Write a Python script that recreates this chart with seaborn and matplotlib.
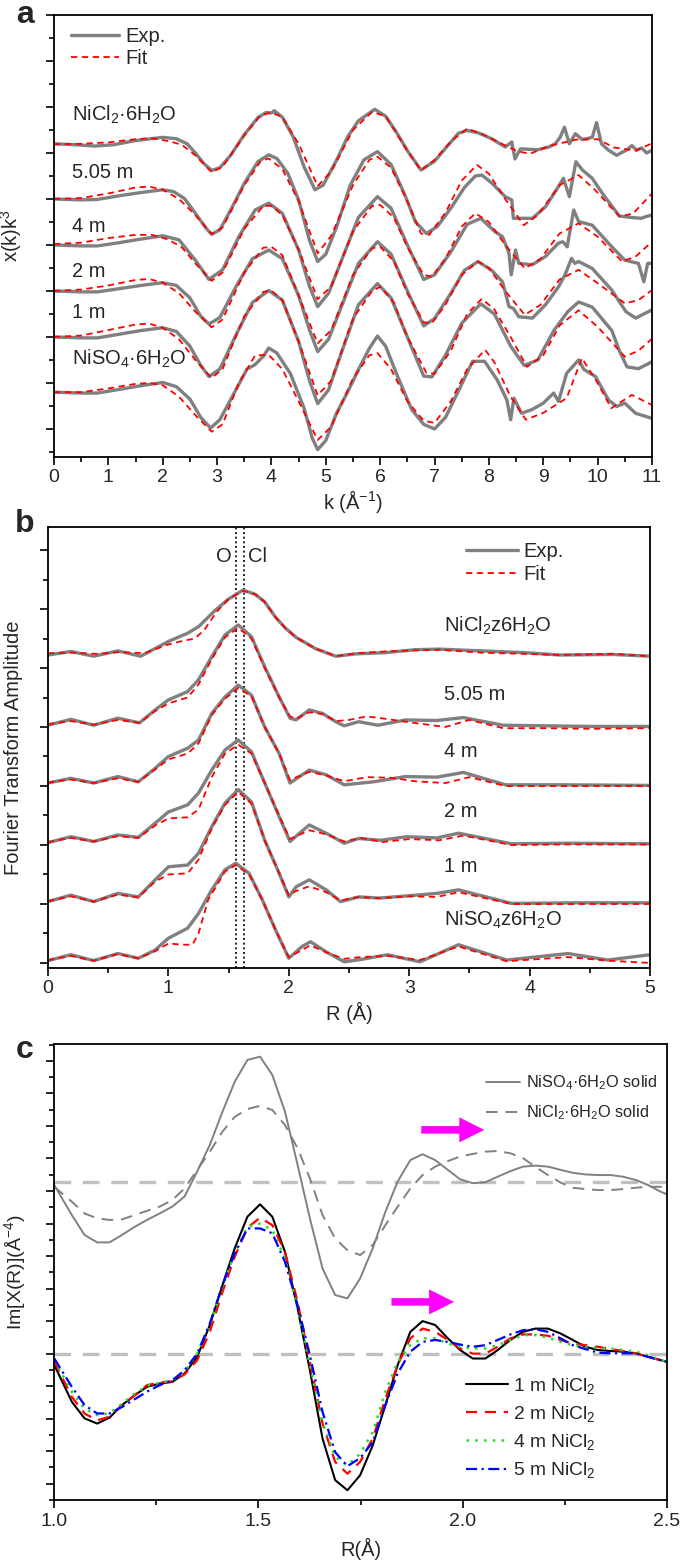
import numpy as np
import matplotlib
matplotlib.use('Agg')
import matplotlib.pyplot as plt
from matplotlib.lines import Line2D
from matplotlib.patches import FancyArrowPatch
from matplotlib.ticker import MultipleLocator
import seaborn as sns

sns.set_theme(style='ticks')
plt.rcParams['font.family'] = ['Liberation Sans', 'DejaVu Sans']
plt.rcParams['mathtext.fontset'] = 'custom'
plt.rcParams['mathtext.rm'] = 'Liberation Sans'
plt.rcParams['mathtext.it'] = 'Liberation Sans:italic'
plt.rcParams['mathtext.default'] = 'regular'

# ---------------- Panel a: k^3 chi(k), (k, value) pairs ----------------
a_names = ['NiCl$_2$·6H$_2$O', '5.05 m', '4 m', '2 m', '1 m', 'NiSO$_4$·6H$_2$O']
a_offsets = [6.2, 5.0, 4.0, 3.0, 2.0, 0.8]

a_exp_nicl2 = [(0,0),(0.4,-0.02),(0.75,-0.05),(1.1,-0.02),(1.5,0.07),(2.0,0.14),(2.25,0.11),(2.45,0.0),(2.6,-0.2),(2.75,-0.42),(2.9,-0.58),(3.05,-0.52),(3.25,-0.25),(3.5,0.2),(3.75,0.57),(3.9,0.68),(4.0,0.67),(4.05,0.72),(4.2,0.58),(4.4,0.15),(4.6,-0.5),(4.8,-1.0),(4.95,-0.9),(5.2,-0.35),(5.4,0.15),(5.6,0.5),(5.9,0.75),(6.1,0.6),(6.3,0.25),(6.5,-0.15),(6.75,-0.57),(7.0,-0.38),(7.2,-0.1),(7.44,0.23),(7.6,0.29),(7.8,0.24),(8.05,0.11),(8.3,-0.07),(8.42,0.04),(8.48,-0.33),(8.58,-0.11),(8.9,-0.13),(9.1,-0.07),(9.22,0.0),(9.31,0.14),(9.39,0.36),(9.48,0.0),(9.59,0.22),(9.72,0.09),(9.9,0.14),(9.98,0.46),(10.07,0.0),(10.2,-0.14),(10.35,-0.25),(10.54,-0.13),(10.63,-0.04),(10.72,-0.14),(10.81,-0.09),(10.9,-0.2),(11.0,-0.14)]
a_fit_nicl2 = [(0,-0.01),(0.5,0.0),(1.0,0.03),(1.5,0.1),(1.8,0.12),(2.1,0.06),(2.35,-0.02),(2.6,-0.25),(2.9,-0.62),(3.1,-0.5),(3.5,0.18),(3.8,0.62),(4.0,0.68),(4.2,0.58),(4.5,0.0),(4.85,-0.92),(5.1,-0.6),(5.5,0.3),(5.85,0.69),(6.1,0.6),(6.5,-0.15),(6.75,-0.58),(7.0,-0.35),(7.3,0.05),(7.6,0.33),(7.9,0.2),(8.2,0.02),(8.5,-0.15),(8.75,-0.22),(9.1,-0.05),(9.6,0.09),(10.0,0.1),(10.3,-0.08),(10.7,-0.15),(11.0,0.01)]

a_exp_505 = [(0,0),(0.5,-0.02),(0.8,-0.01),(1.2,0.07),(1.6,0.14),(2.0,0.2),(2.2,0.16),(2.4,0.01),(2.6,-0.31),(2.8,-0.64),(2.9,-0.77),(3.05,-0.67),(3.25,-0.24),(3.5,0.34),(3.75,0.81),(3.95,0.96),(4.1,0.88),(4.3,0.56),(4.5,-0.02),(4.7,-0.9),(4.85,-1.36),(5.0,-1.2),(5.2,-0.6),(5.45,0.3),(5.7,0.85),(5.95,1.03),(6.2,0.75),(6.45,0.1),(6.65,-0.5),(6.85,-0.75),(7.05,-0.6),(7.3,-0.2),(7.55,0.25),(7.75,0.5),(7.87,0.52),(8.05,0.35),(8.3,0.05),(8.42,-0.02),(8.45,-0.42),(8.55,-0.42),(8.8,-0.42),(9.04,-0.17),(9.28,0.27),(9.37,0.45),(9.48,0.05),(9.6,0.81),(9.72,0.63),(9.9,0.45),(10.1,0.1),(10.4,-0.37),(10.6,-0.4),(10.8,-0.42),(10.9,-0.38),(11.0,-0.35)]
a_fit_505 = [(0,0.0),(0.5,0.02),(1.0,0.12),(1.5,0.25),(1.75,0.27),(2.0,0.2),(2.3,0.0),(2.6,-0.35),(2.9,-0.76),(3.1,-0.62),(3.5,0.3),(3.8,0.82),(3.95,0.88),(4.2,0.65),(4.5,-0.05),(4.85,-1.18),(5.1,-0.8),(5.5,0.3),(5.8,0.85),(5.95,0.92),(6.2,0.68),(6.5,-0.05),(6.75,-0.75),(6.9,-0.78),(7.2,-0.3),(7.5,0.4),(7.78,0.74),(8.0,0.55),(8.3,0.0),(8.64,-0.57),(8.9,-0.35),(9.3,0.3),(9.65,0.52),(9.95,0.2),(10.4,-0.38),(10.65,-0.32),(11.0,0.12)]

a_exp_4 = [(0,0),(0.5,-0.02),(0.8,-0.02),(1.2,0.05),(1.5,0.11),(2.0,0.2),(2.3,0.11),(2.6,-0.33),(2.85,-0.75),(3.1,-0.54),(3.4,0.18),(3.7,0.76),(3.95,0.91),(4.2,0.69),(4.5,-0.11),(4.7,-0.9),(4.85,-1.34),(5.05,-1.05),(5.3,-0.3),(5.6,0.6),(5.95,1.05),(6.2,0.8),(6.5,0.0),(6.8,-0.75),(7.0,-0.65),(7.3,-0.15),(7.6,0.45),(7.85,0.58),(8.1,0.3),(8.25,0.18),(8.37,-0.18),(8.41,-0.65),(8.49,-0.11),(8.55,-0.4),(8.8,-0.43),(9.04,-0.25),(9.28,0.04),(9.36,0.07),(9.44,-0.04),(9.56,0.76),(9.65,0.51),(9.9,0.43),(10.26,-0.04),(10.5,-0.33),(10.75,-0.4),(10.85,-0.8),(10.92,-0.4),(11.0,-0.4)]
a_fit_4 = [(0,0.02),(0.5,0.05),(1.0,0.15),(1.5,0.22),(1.8,0.22),(2.1,0.12),(2.35,-0.05),(2.6,-0.4),(2.9,-0.78),(3.1,-0.6),(3.5,0.35),(3.85,0.85),(4.0,0.85),(4.2,0.65),(4.5,-0.1),(4.85,-1.18),(5.1,-0.9),(5.5,0.3),(5.85,0.85),(6.0,0.87),(6.25,0.6),(6.5,-0.05),(6.8,-0.65),(6.95,-0.69),(7.2,-0.3),(7.5,0.4),(7.75,0.69),(8.0,0.5),(8.3,0.0),(8.66,-0.51),(8.95,-0.3),(9.3,0.25),(9.65,0.47),(10.0,0.18),(10.45,-0.36),(10.7,-0.25),(11.0,0.07)]

a_exp_2 = [(0,0),(0.5,-0.02),(0.8,-0.02),(1.2,0.05),(1.6,0.12),(2.0,0.18),(2.25,0.12),(2.5,-0.15),(2.7,-0.55),(2.85,-0.72),(3.05,-0.58),(3.35,0.1),(3.65,0.7),(3.95,0.89),(4.2,0.7),(4.5,-0.1),(4.7,-0.85),(4.85,-1.32),(5.05,-1.05),(5.3,-0.3),(5.6,0.6),(5.95,1.07),(6.2,0.8),(6.5,0.0),(6.8,-0.76),(7.0,-0.6),(7.3,-0.05),(7.55,0.45),(7.8,0.64),(8.05,0.45),(8.25,0.2),(8.37,-0.34),(8.45,-0.38),(8.55,-0.56),(8.8,-0.59),(9.04,-0.3),(9.28,0.09),(9.4,0.35),(9.52,0.71),(9.58,0.6),(9.65,0.64),(9.9,0.49),(10.26,0.02),(10.52,-0.45),(10.7,-0.59),(11.0,-0.41)]
a_fit_2 = [(0,0.0),(0.5,0.03),(1.0,0.12),(1.5,0.24),(1.75,0.26),(2.0,0.18),(2.3,-0.05),(2.6,-0.45),(2.9,-0.79),(3.1,-0.62),(3.5,0.4),(3.85,0.94),(4.0,0.96),(4.2,0.78),(4.5,-0.1),(4.85,-1.14),(5.1,-0.85),(5.5,0.35),(5.85,0.93),(6.0,0.96),(6.25,0.65),(6.5,-0.05),(6.8,-0.68),(6.95,-0.7),(7.2,-0.3),(7.5,0.35),(7.8,0.64),(8.0,0.5),(8.3,0.0),(8.66,-0.52),(8.95,-0.3),(9.3,0.25),(9.65,0.46),(10.0,0.17),(10.5,-0.27),(10.75,-0.2),(11.0,0.02)]

a_exp_1 = [(0,0),(0.5,-0.02),(0.8,-0.02),(1.2,0.06),(1.6,0.14),(2.0,0.2),(2.25,0.12),(2.5,-0.2),(2.7,-0.62),(2.85,-0.86),(3.05,-0.7),(3.35,0.05),(3.65,0.75),(3.95,1.01),(4.2,0.8),(4.5,-0.1),(4.7,-0.95),(4.85,-1.45),(5.05,-1.15),(5.3,-0.3),(5.6,0.7),(5.95,1.16),(6.2,0.85),(6.5,0.0),(6.8,-0.85),(6.95,-0.87),(7.2,-0.4),(7.5,0.3),(7.85,0.72),(8.1,0.5),(8.4,-0.2),(8.65,-0.62),(8.9,-0.5),(9.2,0.15),(9.45,0.55),(9.65,0.76),(9.9,0.65),(10.26,0.14),(10.4,-0.3),(10.54,-0.65),(10.75,-0.69),(11.0,-0.54)]
a_fit_1 = [(0,0.0),(0.5,0.03),(1.0,0.15),(1.5,0.27),(1.75,0.29),(2.0,0.2),(2.3,-0.05),(2.6,-0.5),(2.9,-0.89),(3.1,-0.7),(3.5,0.45),(3.85,0.98),(4.0,1.01),(4.2,0.8),(4.5,-0.1),(4.85,-1.27),(5.1,-0.95),(5.5,0.4),(5.85,1.0),(6.0,1.09),(6.25,0.75),(6.5,0.0),(6.85,-0.78),(7.0,-0.8),(7.3,-0.3),(7.6,0.5),(7.87,0.83),(8.1,0.6),(8.4,0.0),(8.7,-0.65),(9.0,-0.4),(9.3,0.25),(9.65,0.58),(10.0,0.22),(10.5,-0.43),(10.75,-0.3),(11.0,-0.04)]

a_exp_niso4 = [(0,0),(0.5,-0.02),(0.8,-0.02),(1.2,0.06),(1.6,0.14),(2.0,0.21),(2.25,0.12),(2.5,-0.15),(2.7,-0.55),(2.88,-0.78),(3.05,-0.6),(3.3,-0.05),(3.55,0.5),(3.7,0.6),(3.85,0.78),(3.95,0.96),(4.1,0.85),(4.35,0.4),(4.6,-0.35),(4.75,-1.0),(4.85,-1.25),(5.0,-1.05),(5.2,-0.45),(5.4,0.0),(5.6,0.49),(5.8,0.95),(5.95,1.22),(6.1,1.0),(6.3,0.4),(6.58,-0.38),(6.8,-0.7),(7.0,-0.8),(7.2,-0.55),(7.45,0.05),(7.7,0.67),(7.92,0.67),(8.15,0.27),(8.33,-0.17),(8.4,-0.6),(8.46,-0.13),(8.6,-0.46),(8.79,-0.38),(9.0,-0.24),(9.19,-0.02),(9.28,-0.2),(9.43,0.41),(9.65,0.7),(9.75,0.49),(9.96,0.34),(10.2,-0.17),(10.35,-0.31),(10.5,-0.24),(10.7,-0.46),(11.0,-0.57)]
a_fit_niso4 = [(0,0.0),(0.5,0.0),(1.0,0.08),(1.5,0.18),(1.75,0.2),(2.0,0.15),(2.3,-0.1),(2.6,-0.5),(2.9,-0.86),(3.1,-0.7),(3.4,0.2),(3.7,0.8),(3.95,0.81),(4.2,0.5),(4.5,-0.2),(4.85,-1.04),(5.1,-0.75),(5.5,0.3),(5.8,0.8),(5.95,0.85),(6.2,0.5),(6.5,-0.2),(6.8,-0.62),(7.0,-0.67),(7.3,-0.2),(7.6,0.5),(7.93,0.92),(8.1,0.65),(8.4,-0.1),(8.68,-0.6),(9.0,-0.45),(9.43,-0.13),(9.71,0.74),(10.0,0.2),(10.25,-0.35),(10.63,-0.06),(11.0,-0.28)]

a_exp = [a_exp_nicl2, a_exp_505, a_exp_4, a_exp_2, a_exp_1, a_exp_niso4]
a_fit = [a_fit_nicl2, a_fit_505, a_fit_4, a_fit_2, a_fit_1, a_fit_niso4]
a_label_y = [6.7, 5.45, 4.29, 3.31, 2.41, 1.39]

# ---------------- Panel b: FT amplitude, (R, value) pairs ----------------
b_names = ['NiCl$_2$z6H$_2$O', '5.05 m', '4 m', '2 m', '1 m', 'NiSO$_4$z6H$_2$O']
b_offsets = [5.2, 4.0, 3.0, 2.0, 1.0, 0.0]

b_exp_nicl2 = [(0,0.02),(0.19,0.08),(0.38,0.0),(0.58,0.09),(0.77,0.0),(1.0,0.25),(1.16,0.39),(1.25,0.5),(1.39,0.78),(1.5,0.97),(1.62,1.12),(1.72,1.05),(1.8,0.92),(1.89,0.66),(1.97,0.48),(2.06,0.32),(2.22,0.13),(2.39,0.0),(2.56,0.04),(2.8,0.06),(3.05,0.11),(3.25,0.12),(3.6,0.09),(3.96,0.06),(4.25,0.02),(4.69,0.03),(5.0,0.0)]
b_fit_nicl2 = [(0,0.05),(0.2,0.06),(0.4,0.04),(0.6,0.07),(0.8,0.05),(1.0,0.2),(1.12,0.26),(1.22,0.3),(1.3,0.45),(1.4,0.75),(1.5,0.97),(1.62,1.11),(1.72,1.05),(1.8,0.92),(1.89,0.66),(1.97,0.48),(2.06,0.32),(2.22,0.13),(2.39,0.0),(2.56,0.05),(2.8,0.08),(3.05,0.1),(3.25,0.11),(3.6,0.06),(3.96,0.04),(4.25,0.02),(4.69,0.04),(5.0,0.0)]
b_exp_505 = [(0,0.03),(0.19,0.13),(0.38,0.03),(0.58,0.15),(0.76,0.07),(0.89,0.29),(1.0,0.46),(1.16,0.6),(1.25,0.8),(1.36,1.19),(1.47,1.56),(1.58,1.73),(1.69,1.53),(1.8,1.02),(1.92,0.51),(2.01,0.15),(2.06,0.12),(2.17,0.29),(2.28,0.23),(2.39,0.09),(2.46,0.02),(2.58,0.09),(2.74,0.03),(2.97,0.12),(3.23,0.11),(3.45,0.16),(3.78,0.03),(4.14,0.02),(4.5,0.01),(5.0,0.01)]
b_fit_505 = [(0,0.05),(0.19,0.1),(0.38,0.04),(0.58,0.12),(0.76,0.07),(0.89,0.27),(1.0,0.4),(1.16,0.5),(1.25,0.72),(1.36,1.15),(1.47,1.52),(1.58,1.68),(1.69,1.5),(1.8,1.0),(1.92,0.5),(2.01,0.18),(2.06,0.14),(2.17,0.25),(2.28,0.22),(2.39,0.1),(2.5,0.12),(2.65,0.18),(2.8,0.14),(3.0,0.08),(3.3,0.0),(3.5,0.12),(3.78,-0.02),(4.14,-0.02),(4.5,-0.03),(5.0,-0.02)]
b_exp_4 = [(0,0.05),(0.19,0.13),(0.38,0.05),(0.58,0.16),(0.75,0.07),(0.89,0.3),(1.0,0.5),(1.16,0.64),(1.25,0.78),(1.36,1.23),(1.47,1.51),(1.58,1.71),(1.69,1.54),(1.8,1.0),(1.92,0.55),(2.01,0.05),(2.17,0.27),(2.31,0.19),(2.46,0.02),(2.7,0.07),(2.97,0.16),(3.23,0.15),(3.45,0.23),(3.8,0.02),(4.3,0.02),(5.0,0.01)]
b_fit_4 = [(0,0.06),(0.19,0.11),(0.38,0.05),(0.58,0.13),(0.75,0.07),(0.89,0.28),(1.0,0.45),(1.16,0.55),(1.25,0.72),(1.36,1.2),(1.47,1.48),(1.58,1.66),(1.69,1.52),(1.8,1.0),(1.92,0.55),(2.01,0.1),(2.17,0.24),(2.31,0.18),(2.46,0.08),(2.65,0.15),(2.85,0.14),(3.05,0.08),(3.3,0.05),(3.5,0.15),(3.8,0.0),(4.3,0.0),(5.0,0.0)]
b_exp_2 = [(0,0.04),(0.19,0.14),(0.38,0.06),(0.58,0.17),(0.75,0.13),(0.89,0.37),(1.0,0.56),(1.16,0.68),(1.25,0.88),(1.36,1.27),(1.47,1.61),(1.58,1.78),(1.69,1.58),(1.8,1.05),(1.92,0.48),(2.01,0.06),(2.17,0.34),(2.31,0.2),(2.46,0.03),(2.58,0.11),(2.76,0.08),(2.98,0.14),(3.23,0.12),(3.41,0.2),(3.85,0.02),(4.32,0.03),(5.0,0.02)]
b_fit_2 = [(0,0.05),(0.19,0.12),(0.38,0.06),(0.58,0.15),(0.75,0.12),(0.89,0.33),(1.0,0.45),(1.16,0.47),(1.25,0.6),(1.36,1.15),(1.47,1.55),(1.58,1.7),(1.69,1.55),(1.8,1.05),(1.92,0.5),(2.01,0.1),(2.17,0.25),(2.31,0.18),(2.46,0.06),(2.6,0.12),(2.78,0.05),(3.0,0.1),(3.25,0.08),(3.45,0.16),(3.85,0.0),(4.3,0.01),(5.0,0.01)]
b_exp_1 = [(0,0.04),(0.19,0.15),(0.38,0.04),(0.58,0.18),(0.75,0.12),(0.89,0.41),(1.0,0.63),(1.16,0.66),(1.25,0.86),(1.36,1.31),(1.47,1.71),(1.58,1.94),(1.69,1.73),(1.8,1.08),(1.92,0.52),(2.0,0.12),(2.06,0.29),(2.17,0.41),(2.31,0.24),(2.43,0.04),(2.58,0.12),(2.75,0.1),(3.0,0.14),(3.23,0.18),(3.41,0.24),(3.85,0.01),(4.4,0.02),(5.0,0.02)]
b_fit_1 = [(0,0.05),(0.19,0.13),(0.38,0.04),(0.58,0.16),(0.75,0.11),(0.89,0.38),(1.0,0.5),(1.16,0.52),(1.25,0.75),(1.36,1.28),(1.47,1.68),(1.58,1.9),(1.69,1.7),(1.8,1.08),(1.92,0.52),(2.0,0.15),(2.06,0.22),(2.17,0.3),(2.31,0.2),(2.43,0.06),(2.58,0.12),(2.75,0.1),(3.0,0.13),(3.23,0.12),(3.41,0.2),(3.85,0.0),(4.4,0.0),(5.0,0.0)]
b_exp_niso4 = [(0,0.04),(0.19,0.14),(0.38,0.04),(0.58,0.16),(0.75,0.08),(0.89,0.22),(1.0,0.42),(1.16,0.59),(1.25,0.84),(1.36,1.24),(1.47,1.58),(1.56,1.69),(1.67,1.52),(1.78,1.07),(1.89,0.56),(2.0,0.08),(2.11,0.28),(2.18,0.36),(2.31,0.19),(2.46,0.02),(2.6,0.06),(2.82,0.14),(3.09,0.02),(3.41,0.31),(3.81,0.05),(4.32,0.16),(4.65,0.05),(5.0,0.14)]
b_fit_niso4 = [(0,0.05),(0.19,0.12),(0.38,0.04),(0.58,0.15),(0.75,0.08),(0.89,0.2),(1.0,0.33),(1.12,0.31),(1.2,0.31),(1.25,0.5),(1.33,1.07),(1.47,1.55),(1.56,1.66),(1.67,1.5),(1.78,1.07),(1.89,0.56),(2.0,0.1),(2.11,0.22),(2.18,0.3),(2.31,0.18),(2.46,0.07),(2.6,0.1),(2.82,0.12),(3.09,0.05),(3.41,0.28),(3.81,0.03),(4.32,0.1),(4.65,0.04),(5.0,0.0)]

b_exp = [b_exp_nicl2, b_exp_505, b_exp_4, b_exp_2, b_exp_1, b_exp_niso4]
b_fit = [b_fit_nicl2, b_fit_505, b_fit_4, b_fit_2, b_fit_1, b_fit_niso4]
b_label_y = [5.62, 4.46, 3.49, 2.47, 1.55, 0.64]
b_shells = [1.563, 1.632]   # O and Cl distances (Å)

# ---------------- Panel c: Im[chi(R)] ----------------
c_R = [1.0, 1.043, 1.074, 1.105, 1.135, 1.166, 1.197, 1.227, 1.258, 1.289, 1.319, 1.350, 1.381, 1.412, 1.442,
       1.473, 1.504, 1.534, 1.565, 1.596, 1.626, 1.657, 1.688, 1.718, 1.749, 1.780, 1.811, 1.841, 1.872, 1.902,
       1.933, 1.964, 1.994, 2.025, 2.056, 2.086, 2.117, 2.148, 2.178, 2.209, 2.240, 2.270, 2.301, 2.332, 2.363,
       2.393, 2.424, 2.455, 2.485, 2.5]
c_solid_offset = 5.28
c_niso4_solid = [-0.10, -1.02, -1.63, -1.86, -1.86, -1.63, -1.38, -1.17, -0.97, -0.76, -0.45, 0.32, 1.14, 2.16, 3.08,
                 3.75, 3.85, 3.29, 2.16, 0.52, -1.12, -2.66, -3.48, -3.58, -2.97, -2.04, -0.92, 0.01, 0.67, 0.85,
                 0.67, 0.37, 0.08, -0.04, -0.01, 0.16, 0.33, 0.47, 0.5, 0.47, 0.37, 0.28, 0.23, 0.21, 0.21,
                 0.16, 0.06, -0.10, -0.30, -0.38]
c_nicl2_solid = [-0.15, -0.61, -0.97, -1.12, -1.17, -1.15, -1.02, -0.89, -0.76, -0.56, -0.2, 0.37, 0.93, 1.55, 2.0,
                 2.24, 2.34, 2.21, 1.75, 1.03, 0.11, -1.02, -1.74, -2.1, -2.25, -1.94, -1.33, -0.76, -0.2, 0.21,
                 0.47, 0.64, 0.78, 0.86, 0.93, 0.95, 0.88, 0.73, 0.47, 0.21, -0.02, -0.18, -0.22, -0.25, -0.25,
                 -0.22, -0.18, -0.15, -0.15, -0.15]
c_1m = [-0.35, -1.48, -1.99, -2.15, -1.97, -1.58, -1.28, -1.02, -0.92, -0.87, -0.61, -0.1, 0.88, 2.11, 3.24,
        4.21, 4.59, 4.21, 3.13, 1.39, -0.51, -2.61, -3.89, -4.2, -3.74, -2.82, -1.58, -0.35, 0.67, 1.0,
        0.88, 0.47, 0.11, -0.15, -0.15, 0.11, 0.42, 0.67, 0.77, 0.77, 0.62, 0.42, 0.21, 0.11, 0.08,
        0.06, 0.01, -0.1, -0.2, -0.25]
c_2m = [-0.25, -1.33, -1.84, -2.05, -1.94, -1.58, -1.28, -0.97, -0.89, -0.85, -0.64, -0.2, 0.67, 1.9, 2.98,
        3.87, 4.18, 3.95, 3.13, 1.59, -0.25, -2.15, -3.33, -3.69, -3.33, -2.61, -1.38, -0.35, 0.47, 0.77,
        0.67, 0.42, 0.16, 0.0, 0.0, 0.21, 0.47, 0.59, 0.59, 0.55, 0.42, 0.31, 0.26, 0.21, 0.14,
        0.08, 0.01, -0.1, -0.2, -0.25]
c_4m = [-0.2, -1.17, -1.69, -1.89, -1.84, -1.54, -1.23, -0.99, -0.9, -0.82, -0.56, 0.0, 0.88, 2.06, 3.08,
        3.9, 4.0, 3.8, 2.92, 1.39, -0.35, -2.1, -3.18, -3.43, -3.08, -2.41, -1.17, -0.25, 0.26, 0.47,
        0.47, 0.31, 0.21, 0.16, 0.16, 0.26, 0.42, 0.57, 0.57, 0.49, 0.36, 0.26, 0.21, 0.18, 0.16,
        0.11, 0.06, -0.05, -0.2, -0.25]
c_5m = [-0.15, -1.02, -1.58, -1.84, -1.84, -1.64, -1.4, -1.17, -0.97, -0.82, -0.51, 0.0, 0.93, 2.11, 3.08,
        3.85, 3.85, 3.7, 2.82, 1.49, -0.05, -1.79, -3.03, -3.46, -3.21, -2.72, -1.58, -0.61, 0.06, 0.36,
        0.42, 0.36, 0.28, 0.21, 0.26, 0.42, 0.59, 0.72, 0.75, 0.67, 0.47, 0.26, 0.14, 0.03, 0.01,
        0.01, 0.01, -0.1, -0.2, -0.25]
c_arrows = [(1.892, 2.06, 6.88), (1.819, 1.986, 1.59)]

# ---------------- Styling ----------------
EXP_C = '#808080'
FIT_C = '#ff0000'
FS = 14.5
TS = 14

fig = plt.figure(figsize=(6.83, 15.65), dpi=100)
W, H = 683.0, 1565.0
axa = fig.add_axes([54 / W, 1 - 457 / H, 598 / W, 442 / H])
axb = fig.add_axes([48 / W, 1 - 968 / H, 602 / W, 441 / H])
axc = fig.add_axes([54.3 / W, 1 - 1500 / H, 612.4 / W, 456 / H])


def draw(ax, xs, ys, **kw):
    sns.lineplot(x=np.asarray(xs, float), y=np.asarray(ys, float), ax=ax, sort=False,
                 estimator=None, legend=False, **kw)


def style_axes(ax):
    for s in ax.spines.values():
        s.set_linewidth(1.3)
        s.set_color('black')
        s.set_visible(True)
    ax.tick_params(which='major', direction='out', length=6, width=1.2, labelsize=TS,
                   color='black', pad=3)
    ax.tick_params(which='minor', direction='out', length=3.5, width=1.2, color='black')
    ax.tick_params(axis='y', labelleft=False)


# Panel a
for pts, off in zip(a_exp, a_offsets):
    arr = np.array(pts)
    draw(axa, arr[:, 0], arr[:, 1] + off, color=EXP_C, linewidth=2.4)
for pts, off in zip(a_fit, a_offsets):
    arr = np.array(pts)
    draw(axa, arr[:, 0], arr[:, 1] + off, color=FIT_C, linewidth=1.3, linestyle=(0, (3.5, 2.5)))
for name, yy in zip(a_names, a_label_y):
    axa.text(0.33, yy, name, fontsize=FS, va='baseline', ha='left')
axa.set_xlim(0, 11)
axa.set_ylim(-0.61, 9.0)
axa.xaxis.set_major_locator(MultipleLocator(1))
axa.xaxis.set_minor_locator(MultipleLocator(0.5))
axa.yaxis.set_major_locator(MultipleLocator(1))
axa.yaxis.set_minor_locator(MultipleLocator(0.5))
style_axes(axa)
axa.set_xlabel('k (Å$^{-1}$)', fontsize=FS)
axa.set_ylabel('x(k)k$^3$', fontsize=FS)
axa.xaxis.set_label_coords(0.5, -0.07)
axa.yaxis.set_label_coords(-0.05, 0.5)
handles = [Line2D([], [], color=EXP_C, lw=2.4), Line2D([], [], color=FIT_C, lw=1.3, ls=(0, (3.5, 2.5)))]
axa.legend(handles, ['Exp.', 'Fit'], loc='upper left', bbox_to_anchor=(0.028, 0.972), frameon=False,
           fontsize=FS, handlelength=2.4, handletextpad=0.3, labelspacing=0.15, borderpad=0, borderaxespad=0)

# Panel b
for xv in b_shells:
    axb.axvline(xv, color='black', lw=1.2, ls=(0, (1.2, 1.6)), zorder=1)
for pts, off in zip(b_exp, b_offsets):
    arr = np.array(pts)
    draw(axb, arr[:, 0], arr[:, 1] + off, color=EXP_C, linewidth=2.4)
for pts, off in zip(b_fit, b_offsets):
    arr = np.array(pts)
    draw(axb, arr[:, 0], arr[:, 1] + off, color=FIT_C, linewidth=1.3, linestyle=(0, (3.5, 2.5)))
for name, yy in zip(b_names, b_label_y):
    axb.text(3.29, yy, name, fontsize=FS, va='baseline', ha='left')
axb.text(b_shells[0] - 0.04, 6.79, 'O', fontsize=FS, va='baseline', ha='right')
axb.text(b_shells[1] + 0.03, 6.79, 'Cl', fontsize=FS, va='baseline', ha='left')
axb.set_xlim(0, 5)
axb.set_ylim(-0.085, 7.39)
axb.xaxis.set_major_locator(MultipleLocator(1))
axb.xaxis.set_minor_locator(MultipleLocator(0.5))
axb.yaxis.set_major_locator(MultipleLocator(1))
axb.yaxis.set_minor_locator(MultipleLocator(0.5))
style_axes(axb)
axb.set_xlabel('R (Å)', fontsize=FS)
axb.set_ylabel('Fourier Transform Amplitude', fontsize=FS)
axb.xaxis.set_label_coords(0.5, -0.077)
axb.yaxis.set_label_coords(-0.041, 0.5)
axb.legend(handles, ['Exp.', 'Fit'], loc='upper left', bbox_to_anchor=(0.695, 0.967), frameon=False,
           fontsize=FS, handlelength=2.55, handletextpad=0.3, labelspacing=0.2, borderpad=0, borderaxespad=0)

# Panel c
for off in [c_solid_offset, 0.0]:
    axc.axhline(off, color='#c0c0c0', lw=2.4, ls=(0, (5, 3.5)), zorder=1)
draw(axc, c_R, np.array(c_niso4_solid) + c_solid_offset, color='#808080', linewidth=1.4)
draw(axc, c_R, np.array(c_nicl2_solid) + c_solid_offset, color='#808080', linewidth=1.4,
     linestyle=(0, (6, 4)))
draw(axc, c_R, c_1m, color='black', linewidth=1.5)
draw(axc, c_R, c_2m, color='#ff0000', linewidth=1.6, linestyle=(0, (5, 3.5)))
draw(axc, c_R, c_4m, color='#22dd22', linewidth=1.8, linestyle=(0, (1, 2.5)))
draw(axc, c_R, c_5m, color='#0000ff', linewidth=1.6, linestyle=(0, (5, 2, 1, 2)))
for x0, x1, yy in c_arrows:
    axc.add_patch(FancyArrowPatch((x0, yy), (x1, yy), arrowstyle='simple,head_length=1.0,head_width=1.0,tail_width=0.3',
                                  mutation_scale=18, color='#ff00ff', lw=0, zorder=5))
axc.set_xlim(1.0, 2.5)
axc.set_ylim(-4.5, 9.52)
axc.set_xticks([1.0, 1.5, 2.0, 2.5])
axc.set_xticklabels(['1.0', '1.5', '2.0', '2.5'])
axc.xaxis.set_minor_locator(MultipleLocator(0.25))
axc.yaxis.set_major_locator(MultipleLocator(1))
axc.yaxis.set_minor_locator(MultipleLocator(0.5))
style_axes(axc)
axc.set_xlabel('R(Å)', fontsize=FS)
axc.set_ylabel('Im[X(R)](Å$^{-4}$)', fontsize=14)
axc.xaxis.set_label_coords(0.5, -0.083)
axc.yaxis.set_label_coords(-0.043, 0.5)
h_up = [Line2D([], [], color='#808080', lw=1.4), Line2D([], [], color='#808080', lw=1.4, ls=(0, (6, 4)))]
leg1 = axc.legend(h_up, ['NiSO$_4$·6H$_2$O solid', 'NiCl$_2$·6H$_2$O solid'], loc='upper left',
                  bbox_to_anchor=(0.705, 0.935), frameon=False, fontsize=11.75, handlelength=2.1,
                  handletextpad=0.35, labelspacing=0.7, borderpad=0, borderaxespad=0)
axc.add_artist(leg1)
h_lo = [Line2D([], [], color='black', lw=1.5), Line2D([], [], color='#ff0000', lw=1.6, ls=(0, (5, 3.5))),
        Line2D([], [], color='#22dd22', lw=1.8, ls=(0, (1, 2.5))),
        Line2D([], [], color='#0000ff', lw=1.6, ls=(0, (5, 2, 1, 2)))]
axc.legend(h_lo, ['1 m NiCl$_2$', '2 m NiCl$_2$', '4 m NiCl$_2$', '5 m NiCl$_2$'], loc='upper left',
           bbox_to_anchor=(0.672, 0.272), frameon=False, fontsize=13.9, handlelength=2.2,
           handletextpad=0.25, labelspacing=0.42, borderpad=0, borderaxespad=0)

# panel letters
for txt, yp in [('a', 15), ('b', 524), ('c', 1050)]:
    fig.text(25 / W, 1 - yp / H, txt, fontsize=23, fontweight='bold', ha='center', va='center')

fig.savefig('out.png', dpi=100)
